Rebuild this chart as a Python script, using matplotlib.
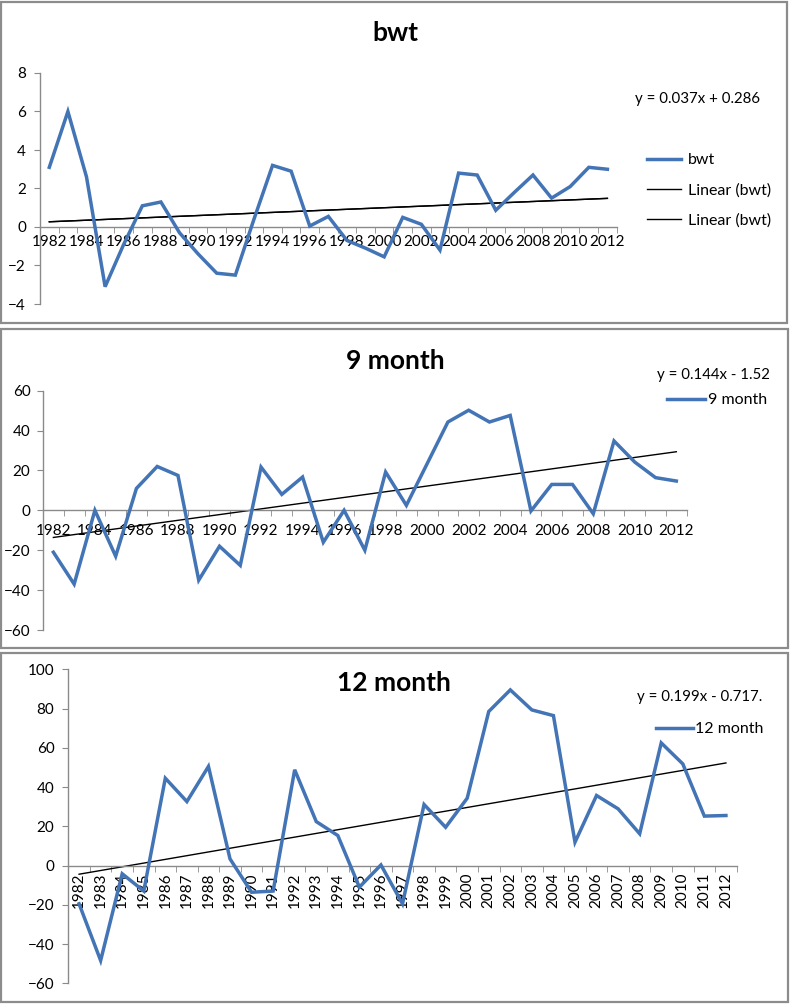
import numpy as np
import matplotlib
matplotlib.use('Agg')
import matplotlib.pyplot as plt
from matplotlib.patches import Rectangle

plt.rcParams['font.family'] = ['Lato', 'DejaVu Sans']

# data
years = list(range(1982, 2013))
bwt = [3.1, 6.0, 2.6, -3.1, -0.9, 1.1, 1.3, -0.3, -1.4, -2.4, -2.5, 0.4, 3.2, 2.9, 0.05, 0.55,
       -0.7, -1.1, -1.55, 0.5, 0.14, -1.2, 2.8, 2.7, 0.87, 1.8, 2.7, 1.5, 2.1, 3.1, 3.0]
month9 = [-21, -37, 0, -23, 11, 22, 17.5, -35, -18, -27.6, 21.7, 8, 16.7, -16, 0, -20,
          19.2, 2.5, 23.4, 44.3, 50.2, 44.3, 47.6, -0.3, 13, 13, -1.7, 34.8, 24.2, 16.4, 14.7]
month12 = [-19.5, -48.4, -4.2, -13, 44.5, 32.6, 50.5, 3.4, -13.6, -13, 48.8, 22.4, 15.3, -11, 0.3, -19.5,
           31.1, 19.5, 34.3, 78.5, 89.5, 79.3, 76.4, 11.9, 35.7, 28.9, 16.2, 62.5, 51.8, 25.2, 25.5]

titles = ['bwt', '9 month', '12 month']
equations = ['y = 0.037x + 0.286', 'y = 0.144x - 1.52', 'y = 0.199x - 0.717.']

W, H = 791, 1005
fig = plt.figure(figsize=(W / 100, H / 100), dpi=100)
blue = '#4374b5'
grey = '#8a8a8a'
tick_fs = 11
leg_fs = 11.5
eq_fs = 10.8


def frac(x0, y0, x1, y1):
    # pixel box (top-left origin) -> figure fraction rect
    return [x0 / W, 1 - y1 / H, (x1 - x0) / W, (y1 - y0) / H]


def panel(rect, series, name, ylim, ystep, label_every, rot, xpad, ypad, twin_trend=False):
    ax = fig.add_axes(frac(*rect))
    x = np.arange(len(years))
    ax.plot(x, series, color=blue, lw=2.5, label=name, solid_joinstyle='miter', zorder=3)
    k, b = np.polyfit(x + 1, series, 1)
    trend = k * (x + 1) + b
    ax.plot(x, trend, color='black', lw=1.0, label='Linear (%s)' % name, zorder=2)
    if twin_trend:
        ax.plot(x, trend, color='black', lw=1.0, label='Linear (%s)' % name, zorder=2)
    ax.set_xlim(-0.5, len(years) - 0.5)
    ax.set_ylim(*ylim)
    ax.set_yticks(np.arange(ylim[0], ylim[1] + 0.1, ystep))
    ax.spines['top'].set_visible(False)
    ax.spines['right'].set_visible(False)
    ax.spines['bottom'].set_position(('data', 0))
    for s in ('left', 'bottom'):
        ax.spines[s].set_color(grey)
        ax.spines[s].set_linewidth(1.0)
    idx = x[::label_every]
    ax.set_xticks(idx)
    ax.set_xticklabels([str(years[i]) for i in idx], rotation=rot)
    ax.set_xticks(np.arange(-0.5, len(years)), minor=True)
    ax.tick_params(axis='x', which='major', length=0, pad=xpad, labelsize=tick_fs)
    ax.tick_params(axis='x', which='minor', length=4, direction='out', color=grey)
    ax.tick_params(axis='y', length=4, direction='out', color=grey, pad=ypad, labelsize=tick_fs)
    ax.patch.set_alpha(0)
    return ax


def frame(x0, y0, x1, y1):
    fig.patches.append(Rectangle((x0 / W, 1 - y1 / H), (x1 - x0) / W, (y1 - y0) / H,
                                 transform=fig.transFigure, fill=False, ec='#8c8c8c', lw=1.6))


# panel 1
frame(1, 2, 787, 323)
ax1 = panel((40, 73, 616.7, 304), bwt, 'bwt', (-4, 8), 2, 2, 0, 6, 6, twin_trend=True)
fig.text(395 / W, 1 - 33 / H, titles[0], ha='center', va='center', fontsize=19, fontweight='bold')
fig.text(635 / W, 1 - 99 / H, equations[0], ha='left', va='center', fontsize=eq_fs)
ax1.legend(loc='upper left', bbox_to_anchor=(647 / W, 1 - 153 / H), bbox_transform=fig.transFigure,
           frameon=False, fontsize=leg_fs, handlelength=2.1, handletextpad=0.45, labelspacing=1.0,
           borderpad=0, borderaxespad=0)

# panel 2
frame(1, 329, 788, 648)
ax2 = panel((43, 390.7, 686.7, 630), month9, '9 month', (-60, 60), 20, 2, 0, 10, 5)
fig.text(395 / W, 1 - 361 / H, titles[1], ha='center', va='center', fontsize=19, fontweight='bold')
fig.text(657 / W, 1 - 375 / H, equations[1], ha='left', va='center', fontsize=eq_fs)
ax2.legend(loc='upper left', bbox_to_anchor=(667 / W, 1 - 393 / H), bbox_transform=fig.transFigure,
           frameon=False, fontsize=leg_fs, handlelength=2.4, handletextpad=0.15,
           borderpad=0, borderaxespad=0, handles=ax2.lines[:1])

# panel 3
frame(1, 653, 788, 1002)
ax3 = panel((68.3, 669.3, 736.7, 983.3), month12, '12 month', (-60, 100), 20, 1, 90, 5, 6)
fig.text(394 / W, 1 - 683 / H, titles[2], ha='center', va='center', fontsize=19, fontweight='bold')
fig.text(637 / W, 1 - 697 / H, equations[2], ha='left', va='center', fontsize=eq_fs)
ax3.legend(loc='upper left', bbox_to_anchor=(656 / W, 1 - 722 / H), bbox_transform=fig.transFigure,
           frameon=False, fontsize=leg_fs, handlelength=2.3, handletextpad=0.15,
           borderpad=0, borderaxespad=0, handles=ax3.lines[:1])

fig.savefig('out.png', dpi=100, facecolor='white')
